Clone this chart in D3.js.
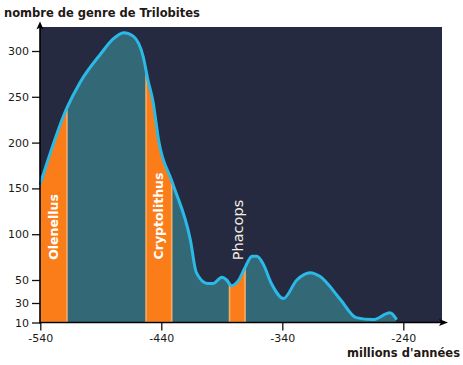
<!DOCTYPE html>
<html><head><meta charset="utf-8">
<script src="https://cdn.jsdelivr.net/npm/d3@7"></script>
<style>body{margin:0;background:#fff}svg{display:block}</style>
</head><body>
<svg id="c" width="463" height="365"></svg>
<script>
// ---- data ----
const years  = [-540,-518,-507,-490,-480,-471,-463,-455,-451,-447,-442,-431,-416,-411,-402,-397,-390,-386,-382,-376,-371,-365,-361,-356,-349,-339,-328,-317,-309,-292,-279,-265,-251,-246];
const genera = [ 155, 238, 266, 297, 313, 320, 316, 294, 268, 246, 201, 157,  94,  58,  47,  47,  53,  50,  45,  50,  63,  76,  76,  68,  47,  34,  50,  58,  54,  33,  15,  13,  20,  14];
const genusNames = ["Olenellus","Cryptolithus","Phacops"];
const genusStart = [-540,-452.6,-383.6];
const genusEnd   = [-518,-431.4,-370.8];
const yTicks = [10,30,50,100,150,200,250,300];
const xTicks = [-540,-440,-340,-240];
const yTitle = "nombre de genre de Trilobites";
const xTitle = "millions d'années";

// ---- layout ----
const svg = d3.select("#c");
const font = "DejaVu Sans, Verdana, sans-serif";
const x = d3.scaleLinear().domain([-540,-240]).range([40.3,403.3]);
const y = d3.scaleLinear().domain([10,30,50,300]).range([322.5,303,280,51]);
const plotL = 40, plotR = 442, plotT = 27, base = y(10);

svg.append("rect").attr("x",plotL).attr("y",plotT).attr("width",plotR-plotL).attr("height",base-plotT).attr("fill","#252a40");

const pts = years.map((d,i)=>[d,genera[i]]);
const curve = d3.curveMonotoneX;
const area = d3.area().x(d=>x(d[0])).y0(base).y1(d=>y(d[1])).curve(curve);
const line = d3.line().x(d=>x(d[0])).y(d=>y(d[1])).curve(curve);

svg.append("defs").append("clipPath").attr("id","under").append("path").attr("d",area(pts));
svg.append("path").attr("d",area(pts)).attr("fill","#336977");

const og = svg.append("g").attr("clip-path","url(#under)");
genusNames.forEach((n,i)=>{
  og.append("rect").attr("x",x(genusStart[i])).attr("y",plotT-5)
    .attr("width",x(genusEnd[i])-x(genusStart[i])).attr("height",base-plotT+5)
    .attr("fill","#fa7d19").attr("stroke","#f4ad66").attr("stroke-width",1.6);
});

svg.append("path").attr("d",line(pts)).attr("fill","none").attr("stroke","#2bb9e8").attr("stroke-width",3).attr("stroke-linejoin","round").attr("stroke-linecap","round");

// genus labels
const labelY = [227,216,230];
genusNames.forEach((n,i)=>{
  const cx = (x(genusStart[i])+x(genusEnd[i]))/2;
  const ph = i===2;
  svg.append("text").attr("transform",`translate(${cx},${labelY[i]}) rotate(-90)`)
    .attr("text-anchor","middle").attr("dy","0.36em")
    .attr("font-family",font).attr("font-size",ph?14.5:12.5).attr("font-weight",ph?"normal":"bold")
    .attr("fill",ph?"#f4ede2":"#ffffff").text(n);
});

// axes
const fmt = d => String(d);
const ya = svg.append("g").attr("transform",`translate(${plotL},0)`)
  .call(d3.axisLeft(y).tickValues(yTicks).tickSize(8).tickPadding(3).tickFormat(fmt));
const xa = svg.append("g").attr("transform",`translate(0,${base})`)
  .call(d3.axisBottom(x).tickValues(xTicks).tickSize(8).tickPadding(4).tickFormat(fmt));
[ya,xa].forEach(a=>{
  a.select(".domain").remove();
  a.selectAll("line").attr("stroke","#111").attr("stroke-width",1.3);
  a.selectAll("text").attr("font-family",font).attr("font-size",11).attr("fill","#1a1a1a");
});

// axis lines with arrows
svg.append("line").attr("x1",plotL).attr("x2",plotL).attr("y1",base+1).attr("y2",25).attr("stroke","#000").attr("stroke-width",1.6);
svg.append("line").attr("x1",plotL-1).attr("x2",444).attr("y1",base).attr("y2",base).attr("stroke","#000").attr("stroke-width",1.6);
const ty = 21.5, tx = 448;
svg.append("path").attr("d",`M${plotL},${ty} L${plotL+3.6},${ty+8} L${plotL},${ty+6} L${plotL-3.6},${ty+8} Z`).attr("fill","#000");
svg.append("path").attr("d",`M${tx},${base} L${tx-9},${base+3.6} L${tx-7},${base} L${tx-9},${base-3.6} Z`).attr("fill","#000");

// titles
svg.append("text").attr("x",4).attr("y",17).attr("font-family",font).attr("font-size",11.5).attr("font-weight","bold").attr("fill","#231815").text(yTitle);
svg.append("text").attr("x",460).attr("y",357).attr("text-anchor","end").attr("font-family",font).attr("font-size",11.5).attr("font-weight","bold").attr("fill","#231815").text(xTitle);
</script>
</body></html>
